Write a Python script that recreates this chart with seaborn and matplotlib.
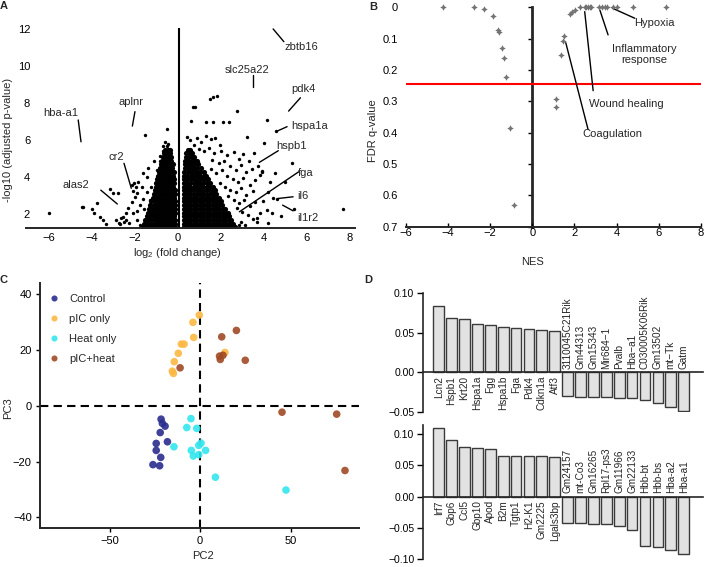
import matplotlib
matplotlib.use("Agg")
import matplotlib.pyplot as plt
import seaborn as sns
import pandas as pd

# ---------------- A: volcano (log2 FC vs -log10 adjusted p) ----------------
# dense clouds, read row by row: (-log10 padj, [log2 fold change, ...])
volcano_down_rows = [
    (1.32, [-1.62, -1.48, -1.33, -1.19, -1.05, -0.91, -0.77, -0.63, -0.49, -0.35, -0.21, -0.12]),
    (1.50, [-1.55, -1.40, -1.26, -1.12, -0.98, -0.84, -0.70, -0.56, -0.42, -0.28, -0.14]),
    (1.70, [-1.50, -1.36, -1.22, -1.08, -0.94, -0.80, -0.66, -0.52, -0.38, -0.24, -0.12]),
    (1.90, [-1.45, -1.30, -1.16, -1.02, -0.88, -0.74, -0.60, -0.46, -0.32, -0.18]),
    (2.10, [-1.40, -1.25, -1.11, -0.97, -0.83, -0.69, -0.55, -0.41, -0.27, -0.13]),
    (2.30, [-1.33, -1.18, -1.04, -0.90, -0.76, -0.62, -0.48, -0.34, -0.20, -0.12]),
    (2.50, [-1.27, -1.12, -0.98, -0.84, -0.70, -0.56, -0.42, -0.28, -0.14]),
    (2.70, [-1.22, -1.08, -0.94, -0.80, -0.66, -0.52, -0.38, -0.24, -0.12]),
    (2.90, [-1.16, -1.02, -0.88, -0.74, -0.60, -0.46, -0.32, -0.18]),
    (3.10, [-1.12, -0.98, -0.84, -0.70, -0.56, -0.42, -0.28, -0.14]),
    (3.30, [-1.08, -0.94, -0.80, -0.66, -0.52, -0.38, -0.24, -0.13]),
    (3.50, [-1.03, -0.90, -0.76, -0.62, -0.48, -0.34, -0.20]),
    (3.70, [-0.99, -0.85, -0.71, -0.57, -0.43, -0.29, -0.16]),
    (3.90, [-0.95, -0.81, -0.67, -0.53, -0.39, -0.25, -0.15]),
    (4.10, [-0.91, -0.77, -0.63, -0.49, -0.35, -0.21]),
    (4.30, [-0.87, -0.73, -0.59, -0.45, -0.31, -0.19]),
    (4.50, [-0.83, -0.69, -0.55, -0.41, -0.27]),
    (4.70, [-0.78, -0.64, -0.50, -0.36, -0.24]),
    (4.90, [-0.74, -0.60, -0.46, -0.32]),
    (5.10, [-0.69, -0.55, -0.41, -0.30]),
    (5.30, [-0.63, -0.49, -0.36]),
    (5.50, [-0.58, -0.45, -0.35]),
]
volcano_up_rows = [
    (1.32, [0.27, 0.42, 0.57, 0.72, 0.87, 1.02, 1.17, 1.32, 1.47, 1.62, 1.77, 1.92, 2.07, 2.22, 2.37, 2.52, 2.67]),
    (1.50, [0.29, 0.44, 0.59, 0.74, 0.89, 1.04, 1.19, 1.34, 1.49, 1.64, 1.79, 1.94, 2.09, 2.24, 2.39, 2.55]),
    (1.70, [0.27, 0.42, 0.57, 0.72, 0.87, 1.02, 1.17, 1.32, 1.47, 1.62, 1.77, 1.92, 2.07, 2.22, 2.37, 2.50]),
    (1.90, [0.29, 0.44, 0.59, 0.74, 0.89, 1.04, 1.19, 1.34, 1.49, 1.64, 1.79, 1.94, 2.09, 2.24, 2.40]),
    (2.10, [0.27, 0.42, 0.57, 0.72, 0.87, 1.02, 1.17, 1.32, 1.47, 1.62, 1.77, 1.92, 2.07, 2.22, 2.33]),
    (2.30, [0.29, 0.44, 0.59, 0.74, 0.89, 1.04, 1.19, 1.34, 1.49, 1.64, 1.79, 1.94, 2.09, 2.22]),
    (2.50, [0.27, 0.42, 0.57, 0.72, 0.87, 1.02, 1.17, 1.32, 1.47, 1.62, 1.77, 1.92, 2.07]),
    (2.70, [0.29, 0.44, 0.59, 0.74, 0.89, 1.04, 1.19, 1.34, 1.49, 1.64, 1.79, 1.94, 2.03]),
    (2.90, [0.27, 0.42, 0.57, 0.72, 0.87, 1.02, 1.17, 1.32, 1.47, 1.62, 1.77, 1.92]),
    (3.10, [0.29, 0.44, 0.59, 0.74, 0.89, 1.04, 1.19, 1.34, 1.49, 1.64, 1.80]),
    (3.30, [0.28, 0.43, 0.58, 0.73, 0.88, 1.03, 1.18, 1.33, 1.48, 1.63, 1.72]),
    (3.50, [0.29, 0.44, 0.59, 0.74, 0.89, 1.04, 1.19, 1.34, 1.49, 1.62]),
    (3.70, [0.29, 0.44, 0.59, 0.74, 0.89, 1.04, 1.19, 1.34, 1.50]),
    (3.90, [0.30, 0.45, 0.60, 0.75, 0.90, 1.05, 1.20, 1.35, 1.42]),
    (4.10, [0.30, 0.45, 0.60, 0.75, 0.90, 1.05, 1.20, 1.32]),
    (4.30, [0.31, 0.46, 0.61, 0.76, 0.91, 1.06, 1.20]),
    (4.50, [0.32, 0.47, 0.62, 0.77, 0.92, 1.07]),
    (4.70, [0.33, 0.48, 0.63, 0.78, 0.93]),
    (4.90, [0.35, 0.50, 0.65, 0.80, 0.88]),
    (5.10, [0.37, 0.52, 0.67, 0.78]),
    (5.30, [0.40, 0.55, 0.68]),
    (5.50, [0.46, 0.58]),
]
# isolated genes (log2 FC, -log10 padj)
volcano_sparse = [
    (-5.99, 2.05), (-4.47, 2.41), (-4.39, 2.38), (-4.00, 2.27), (-3.77, 2.63), (-3.89, 2.05),
    (-3.61, 1.87), (-3.46, 1.69), (-3.34, 1.47), (-2.85, 1.67), (-2.73, 1.56), (-2.62, 1.80),
    (-2.42, 1.69), (-2.50, 1.60), (-2.68, 1.48), (-2.25, 1.52), (-1.91, 1.70), (-1.75, 1.42),
    (-1.45, 1.55), (-2.53, 1.88), (-2.07, 2.06), (-2.30, 2.33), (-1.75, 2.51), (-2.14, 2.69),
    (-1.99, 2.96), (-1.45, 3.23), (-1.67, 3.50), (-1.83, 3.77), (-1.45, 4.04), (-1.60, 4.22),
    (-1.22, 2.06), (-1.30, 2.78), (-1.22, 3.50), (-0.98, 4.40), (-0.83, 5.13), (-0.68, 5.40),
    (-0.52, 5.67), (-0.45, 5.49), (-0.37, 5.30), (-0.68, 5.67), (-0.83, 4.86), (-0.30, 4.58),
    (-0.52, 6.60), (-1.52, 6.29), (-2.14, 3.58), (-2.03, 3.71), (-1.94, 3.49), (-2.09, 3.28),
    (-1.88, 3.17), (-3.15, 3.35), (-3.00, 3.13), (-2.77, 3.17), (-1.35, 1.90), (-1.55, 2.30),
    (-1.90, 2.20), (-1.60, 2.85), (-2.40, 2.10), (-1.40, 4.50), (-1.10, 4.90), (-0.60, 5.90),
    (-0.45, 5.80),
    (0.62, 7.06), (0.70, 7.78), (0.79, 7.78), (1.50, 8.22), (1.66, 8.32), (1.81, 8.39),
    (1.32, 6.97), (1.66, 6.97), (2.09, 6.97), (2.40, 6.97), (2.76, 7.58), (4.14, 7.10),
    (3.21, 6.19), (4.03, 5.87), (4.58, 6.48), (0.45, 6.20), (0.55, 6.00), (0.90, 6.10),
    (1.10, 5.90), (1.30, 6.25), (1.55, 6.05), (1.75, 6.10), (1.95, 5.75), (0.75, 5.75),
    (1.00, 5.55), (1.20, 5.40), (1.45, 5.60), (1.70, 5.30), (2.00, 5.45), (2.30, 5.20),
    (2.60, 5.35), (2.85, 5.00), (3.05, 5.25), (3.30, 4.90), (3.55, 5.30), (1.60, 4.95),
    (1.90, 4.75), (2.15, 4.90), (2.45, 4.60), (2.70, 4.40), (2.95, 4.65), (3.20, 4.30),
    (3.45, 4.45), (3.75, 4.60), (1.55, 4.45), (1.80, 4.25), (2.05, 4.40), (2.30, 4.05),
    (2.55, 3.90), (2.80, 3.75), (3.05, 3.95), (3.35, 3.60), (3.60, 3.85), (3.85, 4.15),
    (3.90, 4.35), (1.95, 3.70), (2.20, 3.50), (2.45, 3.30), (2.70, 3.20), (2.95, 3.40),
    (3.20, 3.05), (3.50, 3.25), (2.35, 3.00), (2.60, 2.80), (2.85, 2.60), (3.10, 2.75),
    (3.35, 2.45), (3.60, 2.65), (2.75, 2.35), (3.00, 2.15), (3.25, 1.95), (3.50, 1.75),
    (3.67, 1.60), (3.67, 1.80), (2.95, 1.60), (3.15, 1.45), (2.85, 1.40), (3.85, 2.05),
    (4.14, 2.24), (4.37, 2.05), (4.30, 3.76), (4.52, 4.25), (4.99, 3.76), (5.32, 4.76),
    (3.94, 4.30), (4.45, 2.90), (4.60, 2.85), (5.42, 2.30), (7.69, 2.27), (4.80, 1.90),
    (4.20, 1.55), (3.95, 2.70), (4.20, 3.20),
]
volcano_genes = ["zbtb16", "slc25a22", "pdk4", "hspa1a", "hspb1", "fga", "il6", "il1r2",
                 "hba-a1", "aplnr", "cr2", "alas2"]
# label centre, leader start, leader end (data coords)
volcano_label_pos = [(5.76, 11.06), (3.21, 9.80), (5.83, 8.76), (6.14, 6.77), (5.30, 5.69),
                     (5.96, 4.25), (5.83, 2.99), (6.06, 1.78), (-5.46, 7.49), (-2.16, 8.09),
                     (-2.88, 5.11), (-4.74, 3.58)]
volcano_leaders = [((4.94, 11.33), (4.44, 12.02)), ((3.52, 9.53), (3.52, 8.90)),
                   ((5.71, 8.30), (5.16, 7.58)), ((5.09, 6.74), (4.63, 6.50)),
                   ((4.68, 5.44), (3.80, 4.81)), ((5.63, 4.30), (2.87, 2.14)),
                   ((5.37, 2.95), (4.68, 2.86)), ((5.37, 2.19), (4.88, 2.50)),
                   ((-4.63, 7.10), (-4.50, 5.92)), ((-1.99, 7.55), (-2.11, 6.77)),
                   ((-2.50, 4.76), (-2.16, 3.41)), ((-3.58, 3.31), (-2.81, 2.56))]

# ---------------- B: GSEA NES vs FDR q ----------------
nes = [-4.24, -2.76, -2.29, -1.86, -1.63, -1.60, -1.46, -1.35, -1.26, -1.07, -0.86,
       1.12, 1.12, 1.35, 1.46, 1.51, 1.78, 1.89, 2.02, 2.26, 2.49, 2.57, 2.65, 2.73, 2.81,
       3.17, 3.33, 3.44, 3.55, 3.84, 4.00, 4.79, 6.34]
fdr_q = [0.0, 0.0, 0.005, 0.028, 0.072, 0.078, 0.129, 0.163, 0.221, 0.386, 0.631,
         0.293, 0.319, 0.153, 0.107, 0.092, 0.021, 0.016, 0.009, 0.0, 0.0, 0.0, 0.0, 0.0, 0.0,
         0.0, 0.0, 0.0, 0.0, 0.0, 0.0, 0.0, 0.0]
fdr_cutoff = 0.245
gsea_terms = ["Coagulation", "Wound healing", "Inflammatory\nresponse", "Hypoxia"]
gsea_label_pos = [(3.79, 0.405), (4.47, 0.309), (5.34, 0.151), (5.82, 0.049)]
gsea_leaders = [((1.59, 0.113), (2.65, 0.390)), ((2.49, 0.014), (2.89, 0.266)),
                ((3.21, 0.009), (3.60, 0.088)), ((3.81, 0.003), (4.87, 0.035))]

# ---------------- C: PCA ----------------
pc_groups = ["Control", "pIC only", "Heat only", "pIC+heat"]
pc2_control = [-21.5, -20.8, -19.3, -22.0, -18.0, -24.2, -24.2, -21.7, -26.0, -22.3]
pc3_control = [-4.8, -6.3, -7.3, -9.6, -12.9, -13.5, -16.0, -18.5, -21.1, -21.5]
pc2_pic = [-0.4, -3.9, -3.5, -10.3, -8.8, -12.0, -14.2, -15.3, -14.7, 13.8]
pc3_pic = [32.5, 29.9, 24.5, 22.1, 22.1, 18.8, 15.8, 12.4, 11.6, 19.1]
pc2_heat = [-5.0, -7.3, -1.8, -14.4, -0.7, 0.55, -4.8, 3.1, -3.7, -0.7, 8.5, 47.5]
pc3_heat = [-4.6, -7.8, -8.1, -14.7, -14.2, -13.4, -16.0, -16.0, -18.0, -17.5, -25.6, -30.2]
pc2_both = [12.0, 20.1, 10.8, 11.2, 12.7, 25.0, -11.0, 45.3, 75.5, 80.1]
pc3_both = [24.7, 27.0, 17.8, 16.6, 18.1, 16.3, 13.6, -2.3, -3.0, -23.2]
pc_colors = ["#2b2d8f", "#fbb843", "#33e6ee", "#a04a25"]

# ---------------- D: top / bottom loadings ----------------
genes_top = ["Lcn2", "Hspb1", "Krt20", "Hspa1a", "Fgg", "Hspa1b", "Fga", "Pdk4", "Cdkn1a", "Atf3",
             "3110045C21Rik", "Gm44313", "Gm15343", "Mir684\u22121", "Pvalb", "Hba\u2212a1",
             "C030005K06Rik", "Gm13502", "mt\u2212Tk", "Gatm"]
load_top = [0.084, 0.069, 0.067, 0.061, 0.0595, 0.057, 0.0557, 0.0548, 0.054, 0.0523,
            -0.030, -0.031, -0.031, -0.0317, -0.0325, -0.033, -0.035, -0.039, -0.044, -0.0486]
genes_bot = ["Irf7", "Gbp6", "Ccl5", "Gbp10", "Apod", "B2m", "Tgtp1", "H2-K1", "Gm2225", "Lgals3bp",
             "Gm24157", "mt-Co3", "Gm16265", "Rpl17-ps3", "Gm11966", "Gm22133", "Hbb-bt", "Hbb-bs",
             "Hba-a2", "Hba-a1"]
load_bot = [0.109, 0.0906, 0.080, 0.077, 0.0757, 0.0655, 0.065, 0.065, 0.0645, 0.064,
            -0.0415, -0.0426, -0.044, -0.044, -0.0468, -0.053, -0.078, -0.080, -0.085, -0.0915]

# ---------------------------------------------------------------------------
sns.set_style("ticks")
plt.rcParams["font.family"] = ["Liberation Sans", "DejaVu Sans"]
plt.rcParams["mathtext.fontset"] = "custom"
plt.rcParams["mathtext.rm"] = "Liberation Sans"
plt.rcParams["mathtext.default"] = "regular"
plt.rcParams["axes.linewidth"] = 1.2
plt.rcParams["xtick.color"] = "black"
plt.rcParams["ytick.color"] = "black"

W, H = 709, 567
fig = plt.figure(figsize=(W / 100, H / 100), dpi=100)


def px_axes(l, t, r, b):
    # place an axes from pixel edges of the 709x567 canvas
    return fig.add_axes([l / W, 1 - b / H, (r - l) / W, (b - t) / H])


FS = 8

# ---- A ----
rows = volcano_down_rows + volcano_up_rows
dense_x = [x for y, xs in rows for x in xs]
dense_y = [y for y, xs in rows for x in xs]
axA = px_axes(26, 28, 355, 227.7)
sns.scatterplot(x=dense_x, y=dense_y, color="black", s=14, linewidth=0, ax=axA)
sns.scatterplot(x=[p[0] for p in volcano_sparse], y=[p[1] for p in volcano_sparse],
                color="black", s=6, linewidth=0, ax=axA)
axA.set_xlim(-7.06, 8.25)
axA.set_ylim(1.28, 12.07)
axA.axvline(0.07, color="black", lw=1.5)
for s in ["left", "top", "right"]:
    axA.spines[s].set_visible(False)
axA.spines["bottom"].set_linewidth(1.4)
axA.set_xticks(range(-6, 9, 2))
axA.set_yticks(range(2, 13, 2))
axA.tick_params(axis="x", length=0, pad=4, labelsize=FS)
axA.tick_params(axis="y", length=0, pad=-3, labelsize=FS)
for gene, (lx, ly), (p0, p1) in zip(volcano_genes, volcano_label_pos, volcano_leaders):
    axA.plot([p0[0], p1[0]], [p0[1], p1[1]], color="black", lw=1.0)
    axA.text(lx, ly, gene, ha="center", va="center", fontsize=FS)
axA.set_xlabel("log$_2$ (fold change)", fontsize=FS)
axA.xaxis.set_label_coords((177 - 26) / 329, (227.7 - 246) / 199.7)
axA.set_ylabel("-log10 (adjusted p-value)", fontsize=FS)
axA.yaxis.set_label_coords((13 - 26) / 329, (227.7 - 140) / 199.7)

# ---- B ----
gsea = pd.DataFrame({"NES": nes, "FDR": fdr_q})
axB = px_axes(406, 7.3, 700.7, 226.7)
sns.scatterplot(data=gsea, x="NES", y="FDR", color="#727272", marker=(4, 1, 0), s=22,
                linewidth=0, clip_on=False, zorder=3, ax=axB)
axB.set_xlim(-6, 8)
axB.set_ylim(0.7, 0)
for s in ["left", "top", "right"]:
    axB.spines[s].set_visible(False)
axB.spines["bottom"].set_linewidth(1.4)
yt = [0, 0.1, 0.2, 0.3, 0.4, 0.5, 0.6, 0.7]
axB.set_yticks(yt)
axB.set_yticklabels(["0", "0.1", "0.2", "0.3", "0.4", "0.5", "0.6", "0.7"])
axB.tick_params(axis="y", length=0, pad=6, labelsize=FS)
axB.set_xticks(range(-6, 9, 2))
axB.tick_params(axis="x", direction="in", length=3, width=1, pad=1, labelsize=FS)
sec = axB.secondary_yaxis(6 / 14)
sec.set_yticks(yt)
sec.tick_params(labelleft=False, length=3, width=1, direction="out")
sec.spines["left"].set_linewidth(2)
axB.axhline(fdr_cutoff, color="#ff0000", lw=1.5, zorder=2)
for term, (lx, ly), (p0, p1) in zip(gsea_terms, gsea_label_pos, gsea_leaders):
    axB.plot([p0[0], p1[0]], [p0[1], p1[1]], color="black", lw=1.0)
    axB.text(lx, ly, term, ha="center", va="center", fontsize=FS, linespacing=1.15)
axB.set_xlabel("NES", fontsize=FS)
axB.xaxis.set_label_coords((533 - 406) / 294.7, (226.7 - 257) / 219.4)
axB.set_ylabel("FDR q-value", fontsize=FS)
axB.yaxis.set_label_coords((378 - 406) / 294.7, (226.7 - 131) / 219.4)

# ---- C ----
pca = pd.DataFrame({
    "PC2": pc2_control + pc2_pic + pc2_heat + pc2_both,
    "PC3": pc3_control + pc3_pic + pc3_heat + pc3_both,
    "group": ([pc_groups[0]] * len(pc2_control) + [pc_groups[1]] * len(pc2_pic)
              + [pc_groups[2]] * len(pc2_heat) + [pc_groups[3]] * len(pc2_both)),
})
axC = px_axes(40, 283, 359.3, 527.7)
axC.axhline(0, color="black", lw=1.5, ls=(0, (4, 2.5)), zorder=1)
axC.axvline(0, color="black", lw=1.5, ls=(0, (4, 2.5)), zorder=1)
sns.scatterplot(data=pca, x="PC2", y="PC3", hue="group", hue_order=pc_groups,
                palette=dict(zip(pc_groups, pc_colors)), s=30, linewidth=0, alpha=0.9,
                zorder=3, ax=axC)
axC.set_xlim(-88.4, 88.0)
axC.set_ylim(-43.7, 44.0)
axC.set_xticks([-50, 0, 50])
axC.set_yticks([-40, -20, 0, 20, 40])
sns.despine(ax=axC)
axC.spines["left"].set_linewidth(1.4)
axC.spines["bottom"].set_linewidth(1.4)
axC.tick_params(length=3, width=1, pad=3, labelsize=FS)
axC.legend(loc="upper left", bbox_to_anchor=(0.0, 0.99), frameon=False, fontsize=FS,
           handlelength=1.0, handletextpad=0.8, labelspacing=0.9, borderaxespad=0.4,
           markerscale=0.8)
axC.set_xlabel("PC2", fontsize=FS)
axC.xaxis.set_label_coords((203 - 40) / 319.3, (527.7 - 551) / 244.7)
axC.set_ylabel("PC3", fontsize=FS)
axC.yaxis.set_label_coords((13 - 40) / 319.3, (527.7 - 408) / 244.7)

# ---- D ----
def loading_bars(ax, genes, vals, ylim, ticks, labels):
    sns.barplot(x=genes, y=vals, color="#e2e2e2", edgecolor="#3a3a3a", linewidth=1.0,
                width=0.83, saturation=1, ax=ax)
    ax.set_xlim(-1.24, 20.5)
    ax.set_ylim(*ylim)
    for s in ["top", "right"]:
        ax.spines[s].set_visible(False)
    ax.spines["bottom"].set_position(("data", 0))
    ax.spines["bottom"].set_linewidth(1.2)
    ax.spines["left"].set_bounds(*ylim)
    ax.set_xticks([])
    ax.set_yticks(ticks)
    ax.set_yticklabels(labels)
    ax.tick_params(axis="y", length=4, width=1, pad=2, labelsize=7.5)
    for i, (g, v) in enumerate(zip(genes, vals)):
        if v > 0:
            ax.annotate(g, (i, 0), xytext=(0, -2.5), textcoords="offset points", rotation=90,
                        ha="center", va="top", fontsize=7.2)
        else:
            ax.annotate(g, (i, 0), xytext=(0, 2.5), textcoords="offset points", rotation=90,
                        ha="center", va="bottom", fontsize=7.2)


axD1 = px_axes(422.7, 293.3, 703, 411.7)
loading_bars(axD1, genes_top, load_top, (-0.05, 0.10), [-0.05, 0, 0.05, 0.10],
             ["\u22120.05", "0.00", "0.05", "0.10"])
axD2 = px_axes(422.7, 424.7, 703, 559.3)
loading_bars(axD2, genes_bot, load_bot, (-0.10, 0.115), [-0.10, -0.05, 0, 0.05, 0.10],
             ["\u22120.10", "\u22120.05", "0.00", "0.05", "0.10"])

# panel letters
for letter, (px, py) in zip("ABCD", [(4, 6), (373, 7), (4, 280), (368, 280)]):
    fig.text(px / W, 1 - py / H, letter, fontsize=FS, fontweight="bold", ha="center", va="center")

fig.savefig("out.png", dpi=100)
